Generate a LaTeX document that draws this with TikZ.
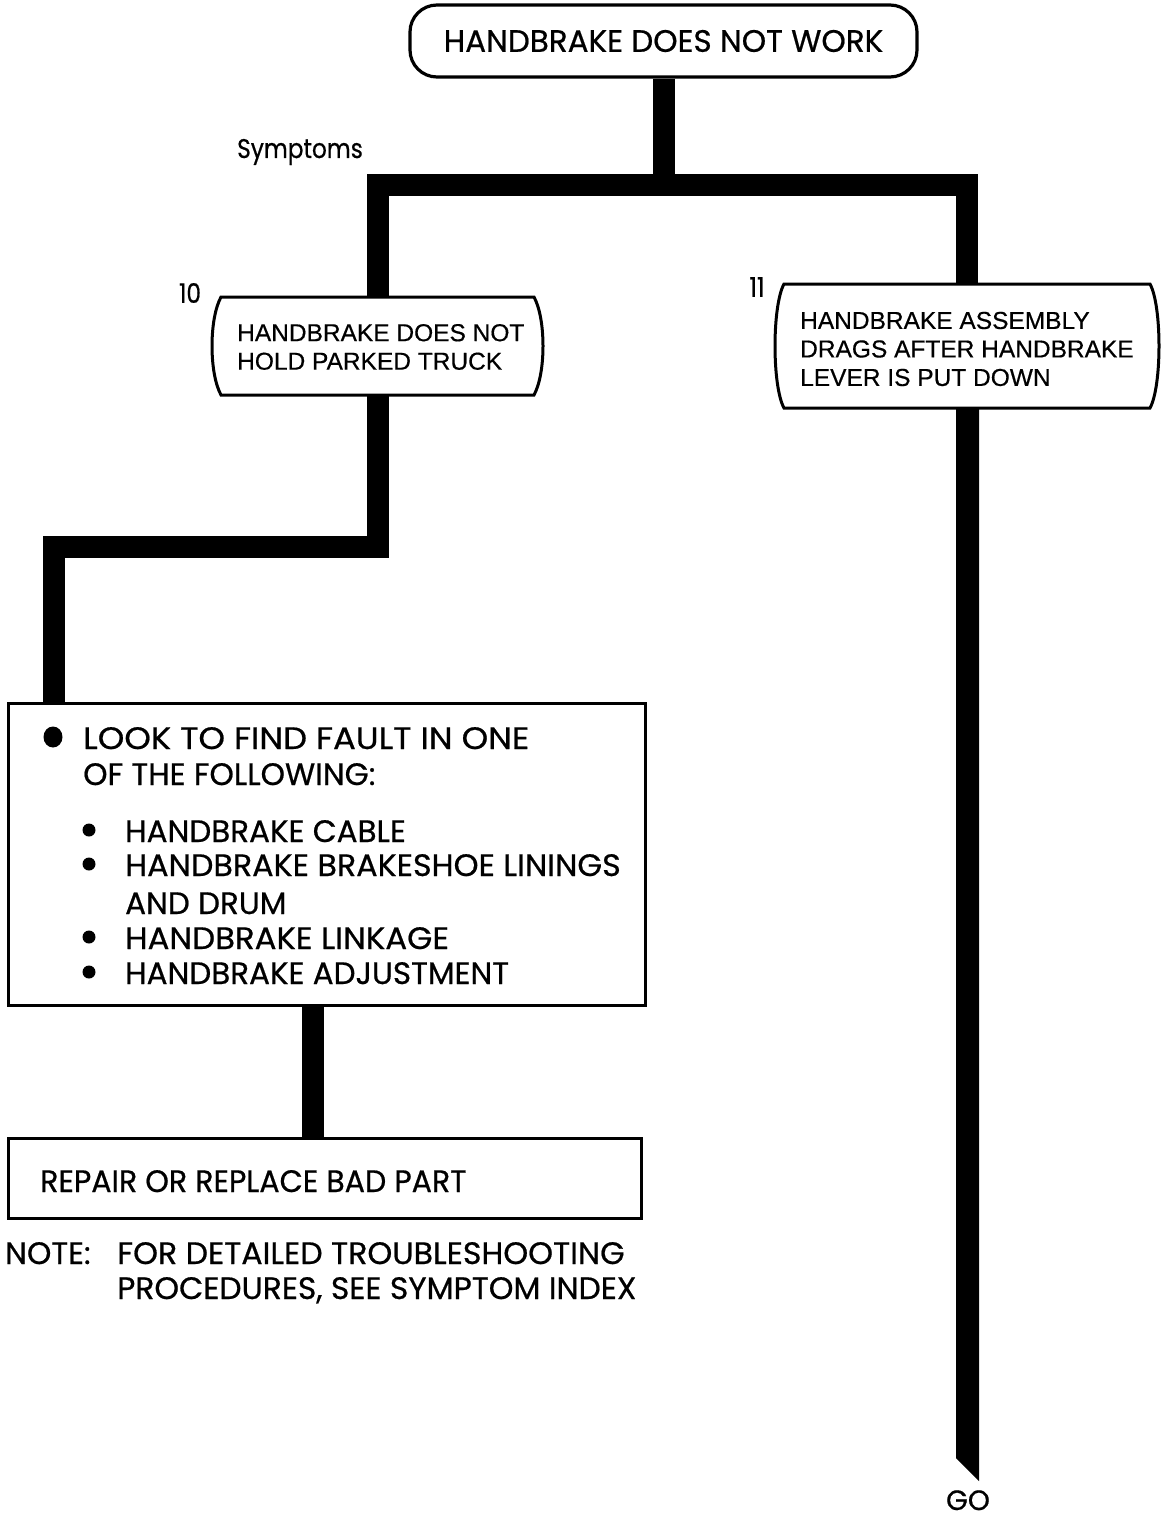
\documentclass[tikz,border=0pt]{standalone}
\usepackage{fontspec}
\setmainfont[FakeBold=0.5]{Liberation Sans}
\newfontfamily\fut[FakeStretch=1.0,FakeBold=0.6]{Poppins}
\newfontfamily\futn[FakeStretch=0.86,FakeBold=0.6]{Poppins}
\usetikzlibrary{calc}
\begin{document}
\begin{tikzpicture}[x=1pt,y=-1pt,
  bar/.style={line width=22pt,line join=miter},
  frame/.style={line width=3pt},
  shapebox/.style={minimum width=#1,inner sep=0pt,outer sep=0pt},
  futtxt/.style={inner sep=0pt,anchor=base west,font=\fut\fontsize{31}{31}\selectfont},
  boxtxt/.style={inner sep=0pt,anchor=west,align=left,font=\fontsize{24.5}{28.5}\selectfont},
  numtxt/.style={inner sep=0pt,font=\futn\fontsize{27}{27}\selectfont}]
\useasboundingbox[fill=white] (0,0) rectangle (1165,1517);

% nodes
\node[draw,line width=3.2pt,rounded corners=27pt,minimum width=507pt,minimum height=72pt,inner sep=0pt,
      font=\fut\fontsize{31}{31}\selectfont] (top) at (663.5,41) {HANDBRAKE DOES NOT WORK};
\node[shapebox=321pt,minimum height=98pt] (b10) at (377.5,346) {};
\node[shapebox=374pt,minimum height=124pt] (b11) at (967,346) {};
\node[draw,frame,shapebox=637pt,minimum height=302pt] (look) at (326.5,854) {};
\node[draw,frame,shapebox=633pt,minimum height=80pt] (fix) at (324.5,1178) {};
\coordinate (j) at (663.5,185);
\coordinate (c1) at (54,547);
\coordinate (c2) at (312.5,1070);
\coordinate (goend) at (967,1469);

% connectors
\draw[bar] (top.south) -- (j);
\draw[bar] (b10.north) |- (j) -| (b11.north);
\draw[bar] (b10.south) |- (c1) -- (c1 |- look.north);
\draw[bar] (c2 |- look.south) -- (c2 |- fix.north);
\fill ($(b11.south)+(-11,-2)$) -- ($(b11.south)+(12,-2)$) -- ($(goend)+(12,12)$) -- ($(goend)+(-11,-11)$) -- cycle;

% barrel shaped symptom boxes
\foreach \b in {b10,b11}{
\draw[frame,fill=white] ($(\b.north west)+(4,0)$) -- ($(\b.north east)+(-4,0)$)
  .. controls ($(\b.north east)+(8,22)$) and ($(\b.south east)+(8,-22)$) .. ($(\b.south east)+(-4,0)$)
  -- ($(\b.south west)+(4,0)$)
  .. controls ($(\b.south west)+(-8,-22)$) and ($(\b.north west)+(-8,22)$) .. cycle;
}

% texts
\node[boxtxt] (t10) at (237,347) {HANDBRAKE DOES NOT\\HOLD PARKED TRUCK};
\node[boxtxt] (t11) at (800,349) {HANDBRAKE ASSEMBLY\\DRAGS AFTER HANDBRAKE\\LEVER IS PUT DOWN};
\node[numtxt] (n10) at (190,293) {10};
\node[numtxt] (n11) at (757,287) {11};
\node[inner sep=0pt,anchor=base west,font=\futn\fontsize{27}{27}\selectfont] (sym) at (237,158) {Symptoms};

\fill (53,737) ellipse[x radius=9.5,y radius=10.5];
\node[futtxt] (l1) at (83,749) {\scalebox{1.09}[1]{LOOK TO FIND FAULT IN ONE}};
\node[futtxt] (l2) at (83,785) {OF THE FOLLOWING:};
\foreach \yy in {830,864,937,972}{\fill (89,\yy) circle[radius=6.5];}
\node[futtxt] (i1) at (125,842) {HANDBRAKE CABLE};
\node[futtxt] (i2) at (125,876) {\scalebox{1.025}[1]{HANDBRAKE BRAKESHOE LININGS}};
\node[futtxt] (i3) at (125,914) {AND DRUM};
\node[futtxt] (i4) at (125,949) {\scalebox{1.045}[1]{HANDBRAKE LINKAGE}};
\node[futtxt] (i5) at (125,984) {HANDBRAKE ADJUSTMENT};

\node[futtxt] (rep) at (40,1192) {\scalebox{0.97}[1]{REPAIR OR REPLACE BAD PART}};
\node[futtxt] (note) at (5,1264) {NOTE:};
\node[futtxt] (n1) at (117,1264) {\scalebox{1.02}[1]{FOR DETAILED TROUBLESHOOTING}};
\node[futtxt] (n2) at (117,1299) {\scalebox{1.012}[1]{PROCEDURES, SEE SYMPTOM INDEX}};
\node[inner sep=0pt,anchor=base,font=\fut\fontsize{28}{28}\selectfont] (go) at (968,1510) {GO};
\end{tikzpicture}
\end{document}
